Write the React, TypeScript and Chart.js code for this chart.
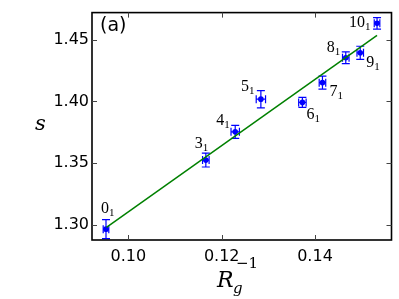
import React, { useEffect, useRef } from "react";
import { Chart, registerables } from "chart.js";
Chart.register(...registerables);

const labelNums = ["0", "3", "4", "5", "6", "7", "8", "9", "10"];
const labelSub = "1";
const xValues = [0.0952, 0.1166, 0.1229, 0.1284, 0.1373, 0.1416, 0.1466, 0.1497, 0.1533];
const yValues = [1.2964, 1.3524, 1.3753, 1.4018, 1.3992, 1.4152, 1.4354, 1.4394, 1.4633];
const xErrors = [0.0006, 0.0007, 0.0009, 0.001, 0.0008, 0.0007, 0.0007, 0.0007, 0.0006];
const yErrors = [0.0077, 0.0056, 0.0053, 0.007, 0.004, 0.0053, 0.0048, 0.0053, 0.0047];
const fitX = [0.0953, 0.1533];
const fitY = [1.2978, 1.4535];
const xTicks = [0.1, 0.12, 0.14];
const yTicks = [1.3, 1.35, 1.4, 1.45];
const xRange = [0.0922, 0.1564];
const yRange = [1.2876, 1.472];
const panelLabel = "(a)";
const yTitle = "s";
const xTitleMain = "R";
const xTitleSub = "g";
const xTitleSup = "\u22121";

// label offsets in pixels (left, baseline) relative to each point
const labelOffsets = [
  [-5, -16],
  [-11, -12],
  [-19, -7],
  [-20, -8],
  [4, 17],
  [7, 13],
  [-19, -6],
  [6, 14],
  [-28, 4],
];

const BLUE = "#0000ff";
const GREEN = "#008000";

const decor = {
  id: "decor",
  beforeDatasetsDraw(chart: any) {
    const { ctx } = chart;
    const xs = chart.scales.x;
    const ys = chart.scales.y;
    ctx.save();
    ctx.strokeStyle = BLUE;
    ctx.lineWidth = 1.2;
    for (let i = 0; i < xValues.length; i++) {
      const px = xs.getPixelForValue(xValues[i]);
      const py = ys.getPixelForValue(yValues[i]);
      const y1 = ys.getPixelForValue(yValues[i] + yErrors[i]);
      const y2 = ys.getPixelForValue(yValues[i] - yErrors[i]);
      const x1 = xs.getPixelForValue(xValues[i] - xErrors[i]);
      const x2 = xs.getPixelForValue(xValues[i] + xErrors[i]);
      ctx.beginPath();
      ctx.moveTo(px, y1);
      ctx.lineTo(px, y2);
      ctx.moveTo(x1, py);
      ctx.lineTo(x2, py);
      ctx.moveTo(px - 4, y1);
      ctx.lineTo(px + 4, y1);
      ctx.moveTo(px - 4, y2);
      ctx.lineTo(px + 4, y2);
      ctx.moveTo(x1, py - 4);
      ctx.lineTo(x1, py + 4);
      ctx.moveTo(x2, py - 4);
      ctx.lineTo(x2, py + 4);
      ctx.stroke();
    }
    ctx.restore();
  },
  afterDraw(chart: any) {
    const { ctx, chartArea } = chart;
    const xs = chart.scales.x;
    const ys = chart.scales.y;
    const { left, right, top, bottom } = chartArea;
    ctx.save();
    ctx.fillStyle = "#000";
    ctx.textBaseline = "alphabetic";
    ctx.textAlign = "left";
    for (let i = 0; i < xValues.length; i++) {
      const px = xs.getPixelForValue(xValues[i]);
      const py = ys.getPixelForValue(yValues[i]);
      const lx = px + labelOffsets[i][0];
      const ly = py + labelOffsets[i][1];
      ctx.font = "16px 'Liberation Serif'";
      ctx.fillText(labelNums[i], lx, ly);
      const w = ctx.measureText(labelNums[i]).width;
      ctx.font = "11px 'Liberation Serif'";
      ctx.fillText(labelSub, lx + w, ly + 3);
    }
    ctx.strokeStyle = "#000";
    ctx.lineWidth = 1.6;
    ctx.strokeRect(left, top, right - left, bottom - top);
    ctx.strokeStyle = "#444";
    ctx.lineWidth = 1;
    ctx.beginPath();
    for (const v of xTicks) {
      const x = Math.round(xs.getPixelForValue(v)) + 0.5;
      ctx.moveTo(x, bottom);
      ctx.lineTo(x, bottom - 5);
      ctx.moveTo(x, top);
      ctx.lineTo(x, top + 5);
    }
    for (const v of yTicks) {
      const y = Math.round(ys.getPixelForValue(v)) + 0.5;
      ctx.moveTo(left, y);
      ctx.lineTo(left + 5, y);
      ctx.moveTo(right, y);
      ctx.lineTo(right - 5, y);
    }
    ctx.stroke();
    ctx.fillStyle = "#000";
    ctx.font = "19px 'DejaVu Sans'";
    ctx.fillText(panelLabel, 100, 31);
    ctx.font = "italic 21px 'DejaVu Serif'";
    ctx.fillText(yTitle, 35, 130);
    ctx.font = "italic 22px 'DejaVu Serif'";
    ctx.fillText(xTitleMain, 217, 287);
    ctx.font = "italic 15px 'DejaVu Serif'";
    ctx.fillText(xTitleSub, 233, 293);
    ctx.font = "15px 'DejaVu Serif'";
    ctx.fillText(xTitleSup, 236, 268);
    ctx.restore();
  },
};

export default function App() {
  const ref = useRef<HTMLCanvasElement | null>(null);
  useEffect(() => {
    if (!ref.current) return;
    const chart = new Chart(ref.current, {
      type: "scatter",
      data: {
        datasets: [
          {
            type: "line",
            data: fitX.map((x, i) => ({ x, y: fitY[i] })),
            borderColor: GREEN,
            borderWidth: 1.5,
            pointRadius: 0,
            fill: false,
          } as any,
          {
            data: xValues.map((x, i) => ({ x, y: yValues[i] })),
            backgroundColor: BLUE,
            borderColor: BLUE,
            pointRadius: 2.8,
            pointBorderWidth: 0,
          },
        ],
      },
      options: {
        animation: false,
        responsive: false,
        devicePixelRatio: 1,
        layout: { padding: { top: 9, right: 7.5, left: 0, bottom: 0 } },
        plugins: { legend: { display: false }, tooltip: { enabled: false } },
        scales: {
          x: {
            type: "linear",
            min: xRange[0],
            max: xRange[1],
            grid: { display: false, drawTicks: false },
            border: { display: false },
            afterBuildTicks: (s: any) => {
              s.ticks = xTicks.map((v) => ({ value: v }));
            },
            afterFit: (s: any) => {
              s.height = 59;
            },
            ticks: {
              autoSkip: false,
              maxRotation: 0,
              padding: 7,
              color: "#000",
              font: { family: "'DejaVu Sans'", size: 16 },
              callback: (v: any) => Number(v).toFixed(2),
            },
          },
          y: {
            type: "linear",
            min: yRange[0],
            max: yRange[1],
            grid: { display: false, drawTicks: false },
            border: { display: false },
            afterBuildTicks: (s: any) => {
              s.ticks = yTicks.map((v) => ({ value: v }));
            },
            afterFit: (s: any) => {
              s.width = 92;
            },
            ticks: {
              autoSkip: false,
              padding: 3,
              color: "#000",
              font: { family: "'DejaVu Sans'", size: 16 },
              callback: (v: any) => Number(v).toFixed(2),
            },
          },
        },
      },
      plugins: [decor],
    });
    return () => chart.destroy();
  }, []);
  return (
    <div style={{ position: "absolute", left: 0, top: 0, width: 399, height: 299, background: "#fff" }}>
      <canvas ref={ref} width={399} height={299} />
    </div>
  );
}
